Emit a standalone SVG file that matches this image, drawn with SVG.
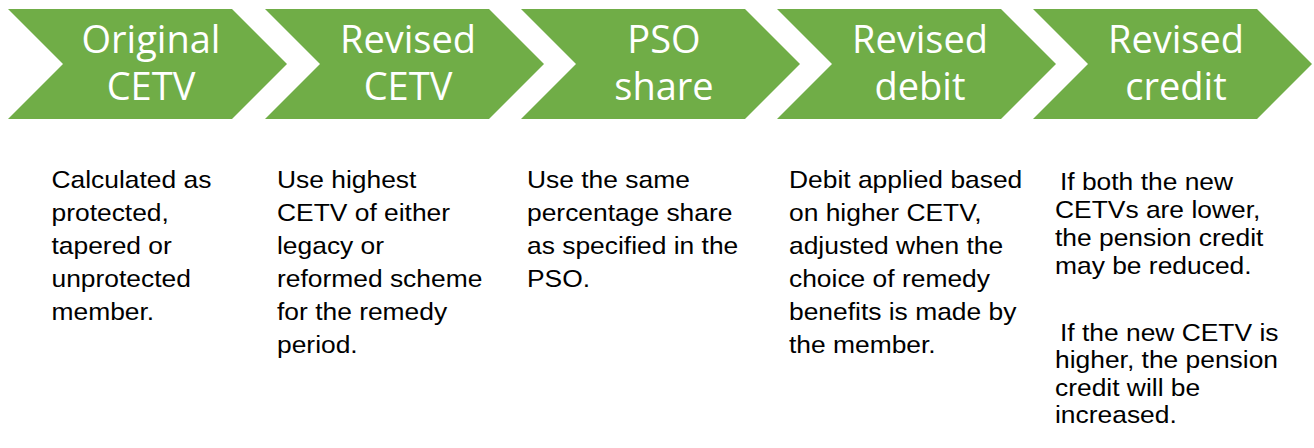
<svg xmlns="http://www.w3.org/2000/svg" width="1314" height="448" viewBox="0 0 1314 448">
  <style>
    .chev { fill: #70AD47; stroke: none; }
    .head { font-family: "Open Sans", "Noto Sans", sans-serif; font-size: 38px; fill: #FFFFFF; text-anchor: middle; }
    .body { font-family: "Liberation Sans", Arial, sans-serif; font-size: 24px; fill: #000000; }
  </style>
  <defs>
    <path id="chevron" d="M0,9 H224 L279,64 L224,119 H0 L55,64 Z"/>
  </defs>
  <rect x="0" y="0" width="1314" height="448" fill="#FFFFFF"/>

  <g id="connectors"></g>

  <g id="node-original-cetv">
    <use href="#chevron" class="chev" transform="translate(8,0)"/>
    <text class="head" x="151" y="53">Original</text>
    <text class="head" x="151" y="100">CETV</text>
    <g transform="matrix(1.1 0 0 1 51.5 0)">
      <text class="body" x="0" y="188">Calculated as</text>
      <text class="body" x="0" y="221">protected,</text>
      <text class="body" x="0" y="254">tapered or</text>
      <text class="body" x="0" y="287">unprotected</text>
      <text class="body" x="0" y="320">member.</text>
    </g>
  </g>

  <g id="node-revised-cetv">
    <use href="#chevron" class="chev" transform="translate(265,0)"/>
    <text class="head" x="408" y="53">Revised</text>
    <text class="head" x="408" y="100">CETV</text>
    <g transform="matrix(1.1 0 0 1 277 0)">
      <text class="body" x="0" y="188">Use highest</text>
      <text class="body" x="0" y="221">CETV of either</text>
      <text class="body" x="0" y="254">legacy or</text>
      <text class="body" x="0" y="287">reformed scheme</text>
      <text class="body" x="0" y="320">for the remedy</text>
      <text class="body" x="0" y="353">period.</text>
    </g>
  </g>

  <g id="node-pso-share">
    <use href="#chevron" class="chev" transform="translate(521,0)"/>
    <text class="head" x="664" y="53">PSO</text>
    <text class="head" x="664" y="100">share</text>
    <g transform="matrix(1.1 0 0 1 527 0)">
      <text class="body" x="0" y="188">Use the same</text>
      <text class="body" x="0" y="221">percentage share</text>
      <text class="body" x="0" y="254">as specified in the</text>
      <text class="body" x="0" y="287">PSO.</text>
    </g>
  </g>

  <g id="node-revised-debit">
    <use href="#chevron" class="chev" transform="translate(777,0)"/>
    <text class="head" x="920" y="53">Revised</text>
    <text class="head" x="920" y="100">debit</text>
    <g transform="matrix(1.1 0 0 1 789 0)">
      <text class="body" x="0" y="188">Debit applied based</text>
      <text class="body" x="0" y="221">on higher CETV,</text>
      <text class="body" x="0" y="254">adjusted when the</text>
      <text class="body" x="0" y="287">choice of remedy</text>
      <text class="body" x="0" y="320">benefits is made by</text>
      <text class="body" x="0" y="353">the member.</text>
    </g>
  </g>

  <g id="node-revised-credit">
    <use href="#chevron" class="chev" transform="translate(1033,0)"/>
    <text class="head" x="1176" y="53">Revised</text>
    <text class="head" x="1176" y="100">credit</text>
    <g transform="matrix(1.1 0 0 1 1055 0)">
      <text class="body" x="4.5" y="190">If both the new</text>
      <text class="body" x="0" y="218">CETVs are lower,</text>
      <text class="body" x="0" y="246">the pension credit</text>
      <text class="body" x="0" y="274">may be reduced.</text>
      <text class="body" x="4.5" y="341">If the new CETV is</text>
      <text class="body" x="0" y="368.5">higher, the pension</text>
      <text class="body" x="0" y="396">credit will be</text>
      <text class="body" x="0" y="423.5">increased.</text>
    </g>
  </g>
</svg>
